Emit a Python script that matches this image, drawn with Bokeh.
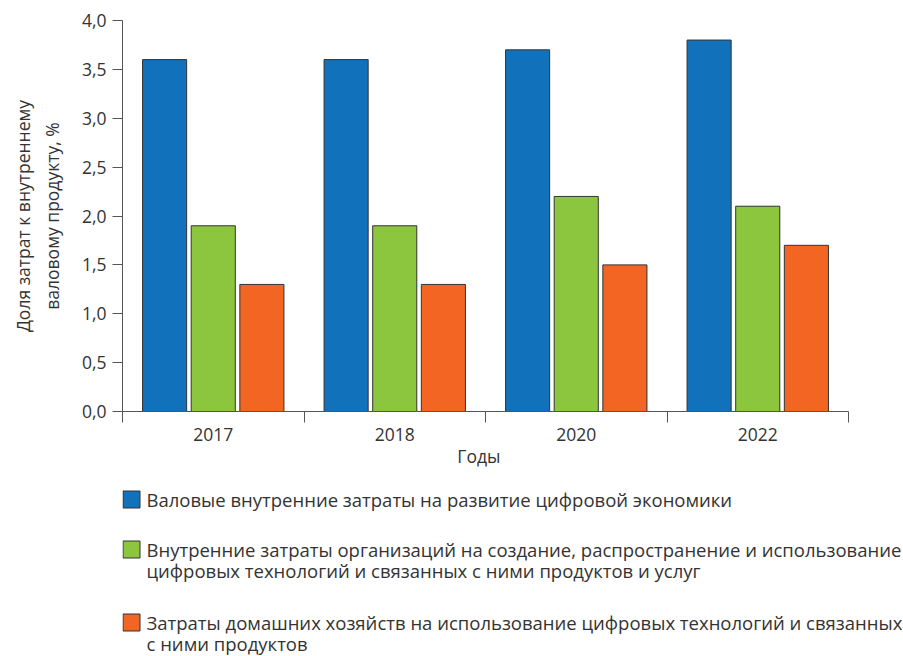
import numpy as np
from bokeh.plotting import figure
from bokeh.models import ColumnDataSource, FixedTicker, Range1d, CustomJSTickFormatter
from bokeh.transform import dodge
from bokeh.layouts import column
from bokeh.embed import file_html
from bokeh.resources import INLINE
from bokeh.core.properties import value

# ---------------- data ----------------
years = ["2017", "2018", "2020", "2022"]
gross_costs = [3.6, 3.6, 3.7, 3.8]
org_costs = [1.9, 1.9, 2.2, 2.1]
household_costs = [1.3, 1.3, 1.5, 1.7]
y_ticks = [0.0, 0.5, 1.0, 1.5, 2.0, 2.5, 3.0, 3.5, 4.0]
series_lines = [
    ["Валовые внутренние затраты на развитие цифровой экономики"],
    ["Внутренние затраты организаций на создание, распространение и использование",
     "цифровых технологий и связанных с ними продуктов и услуг"],
    ["Затраты домашних хозяйств на использование цифровых технологий и связанных",
     "с ними продуктов"],
]
y_title = "Доля затрат к внутреннему\nваловому продукту, %"
x_title = "Годы"
colors = ["#1172BB", "#8CC63F", "#F26522"]

FONT = "Open Sans"
TEXT = "#333333"
AXIS = "#555555"
FS = "17.5px"
LFS = "18.5px"

W = 903
LEFT = 122
AXIS_RIGHT = 848          # where the category axis ends (px)
MAIN_H = 480
n = len(years)
centers = [i + 0.5 for i in range(n)]
src = ColumnDataSource(dict(x=centers, years=years, gross=gross_costs,
                            org=org_costs, house=household_costs))

# frame runs to the right edge (room for the legend below); the axis is bounded to the categories
x_end = n * (W - LEFT) / (AXIS_RIGHT - LEFT)
p = figure(width=W, height=MAIN_H, x_range=Range1d(0, x_end), y_range=Range1d(0, 4),
           output_backend="svg", toolbar_location=None,
           min_border_left=LEFT, min_border_right=0, min_border_top=20,
           min_border_bottom=MAIN_H - 411)
p.outline_line_color = None
p.xgrid.visible = False
p.ygrid.visible = False

offs = [-0.268, 0.0, 0.268]
for col, off, c in zip(["gross", "org", "house"], offs, colors):
    p.vbar(x=dodge("x", off, range=p.x_range), top=col, width=0.243, source=src,
           fill_color=c, line_color="#333333", line_width=1)

# x axis: labels at centers, tick marks at boundaries (minor ticks)
xa = p.xaxis[0]
xa.bounds = (0, n)
xa.ticker = FixedTicker(ticks=centers, minor_ticks=list(range(n + 1)))
xa.major_label_overrides = {c: y for c, y in zip(centers, years)}
xa.major_tick_out = 0
xa.major_tick_in = 0
xa.minor_tick_out = 11
xa.minor_tick_in = 0
xa.minor_tick_line_color = AXIS
xa.axis_line_color = AXIS
xa.major_label_standoff = 5
# label is centred on the full frame; pad with no-break spaces to centre it under the categories
xa.axis_label = x_title + "\u00a0" * 15
xa.axis_label_standoff = 0

ya = p.yaxis[0]
ya.ticker = FixedTicker(ticks=y_ticks, minor_ticks=[])
ya.formatter = CustomJSTickFormatter(code="return tick.toFixed(1).replace('.', ',');")
ya.major_tick_out = 10
ya.major_tick_in = 0
ya.major_tick_line_color = AXIS
ya.axis_line_color = AXIS
ya.major_label_standoff = 6
ya.axis_label = y_title
ya.axis_label_standoff = 15

for ax in (xa, ya):
    ax.major_label_text_font = FONT
    ax.major_label_text_font_size = FS
    ax.major_label_text_color = TEXT
    ax.axis_label_text_font = FONT
    ax.axis_label_text_font_size = FS
    ax.axis_label_text_font_style = "normal"
    ax.axis_label_text_color = TEXT

# ---------------- legend ----------------
LH = 656 - MAIN_H
lf = figure(width=W, height=LH, x_range=Range1d(0, W - LEFT), y_range=Range1d(LH, 0),
            output_backend="svg", toolbar_location=None, min_border=0,
            min_border_left=LEFT, min_border_right=0,
            x_axis_type=None, y_axis_type=None)
lf.outline_line_color = None
lf.xgrid.visible = False
lf.ygrid.visible = False

entry_y = [19, 69, 142]
line_gap = 21
sq_x, sq_y, sc = [], [], []
tx, ty, tt = [], [], []
for i, lines in enumerate(series_lines):
    sq_x.append(9)
    sq_y.append(entry_y[i])
    sc.append(colors[i])
    for j, ln in enumerate(lines):
        tx.append(24)
        ty.append(entry_y[i] + j * line_gap)
        tt.append(ln)
lf.rect(x=sq_x, y=sq_y, width=17, height=17, fill_color=sc, line_color="#333333", line_width=1)
lf.text(x=tx, y=ty, text=tt, text_font=value(FONT), text_font_size=LFS, text_color=TEXT,
        text_baseline="middle", text_align="left")

layout = column(p, lf, spacing=0)
open("out.html", "w").write(file_html(layout, INLINE))
